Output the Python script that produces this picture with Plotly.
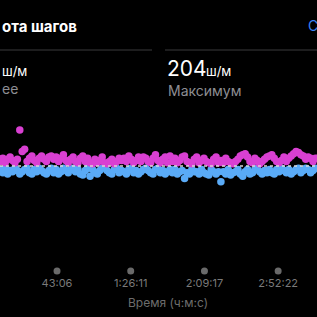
import plotly.graph_objects as go

# ---- data ----
START_S = 600          # first sample time (s)
SAMPLE_S = 85          # sampling interval (s)
AVG_SPM = 172          # average cadence (dashed line)
MAX_SPM = 204

above_spm = [176,179,175,178,180,177,175,178,
             204,185,187,
             176,179,181,177,175,179,181,178,176,180,
             181,178,180,176,179,182,177,175,178,180,
             176,175,179,181,176,179,175,174,178,175,
             177,180,175,174,176,178,174,176,179,177,
             179,176,181,178,175,177,180,176,180,179,
             176,175,179,182,177,175,178,180,175,181,
             176,179,175,177,180,181,176,175,174,178,
             180,175,177,179,176,175,174,178,180,175,
             177,175,179,176,175,174,176,178,181,182,
             183,180,176,175,179,177,174,176,178,180,
             181,182,179,176,175,177,180,176,179,181,
             183,185,184,182,181,178,180,179,176,179]

below_spm = [169,166,170,165,168,167,170,168,165,167,169,
             170,166,165,169,167,170,168,166,165,168,
             170,166,169,165,167,170,168,166,169,170,
             167,169,165,164,168,170,163,169,166,165,
             168,170,171,168,166,165,169,170,166,168,
             167,165,169,170,166,168,165,167,169,170,
             168,166,165,169,170,166,168,165,167,169,
             166,169,165,167,168,161,166,165,169,167,
             167,165,169,166,165,164,169,167,165,167,
             158,167,165,169,164,166,167,169,165,163,
             167,169,165,166,169,170,167,165,168,166,
             169,166,165,169,167,170,168,166,169,165,
             167,169,170,166,168,170,169,166,168,170]

times_s = [START_S + i * SAMPLE_S for i in range(len(above_spm))]

tick_vals = [2586, 5171, 7757, 10342]
tick_text = ["43:06", "1:26:11", "2:09:17", "2:52:22"]

X_RANGE = [586, 11705]
Y_RANGE = [75.1, 230.7]

MAGENTA = "#d940d2"
BLUE = "#5aabf7"
GRAY = "#7a7a7a"

fig = go.Figure()
fig.add_trace(go.Scatter(x=times_s, y=below_spm, mode="markers",
                         marker=dict(color=BLUE, size=7.5, line=dict(width=0)),
                         hoverinfo="skip", showlegend=False))
fig.add_trace(go.Scatter(x=times_s, y=above_spm, mode="markers",
                         marker=dict(color=MAGENTA, size=7.5, line=dict(width=0)),
                         hoverinfo="skip", showlegend=False))
# tick dots
fig.add_trace(go.Scatter(x=tick_vals, y=[0.023] * len(tick_vals), mode="markers",
                         marker=dict(color="#6a6a6a", size=7), yaxis="y2",
                         cliponaxis=False, hoverinfo="skip", showlegend=False))

fig.add_shape(type="line", xref="paper", x0=0, x1=1, yref="y", y0=AVG_SPM, y1=AVG_SPM,
              line=dict(color="#d8d8d8", width=1.3, dash="3px,3px"), layer="above")
# separators
fig.add_shape(type="line", xref="paper", yref="paper", x0=0, x1=152/317,
              y0=(275-50)/175, y1=(275-50)/175, line=dict(color="#3a3a3c", width=1))
fig.add_shape(type="line", xref="paper", yref="paper", x0=165/317, x1=1,
              y0=(275-50)/175, y1=(275-50)/175, line=dict(color="#3a3a3c", width=1))

FONT = "Inter, Roboto, sans-serif"

def py(p):
    return (275 - p) / 175

def px(p):
    return p / 317

anns = [
    dict(text="<b>ота шагов</b>", x=px(0), y=py(26), font=dict(size=15, color="white")),
    dict(text="С", x=px(306), y=py(25), font=dict(size=14, color="#3a82f7")),
    dict(text="ш/м", x=px(0), y=py(71), font=dict(size=13, color="white")),
    dict(text="ее", x=px(0), y=py(89), font=dict(size=14, color="#8e8e93")),
    dict(text=f"{MAX_SPM}", x=px(165), y=py(68.5), font=dict(size=21, color="white")),
    dict(text="ш/м", x=px(204), y=py(71), font=dict(size=13, color="white")),
    dict(text="Максимум", x=px(166), y=py(90), font=dict(size=14, color="#8e8e93")),
]
for a in anns:
    fig.add_annotation(xref="paper", yref="paper", xanchor="left", yanchor="middle",
                       showarrow=False, **a)
fig.add_annotation(text="Время (ч:м:с)", xref="paper", yref="paper", x=px(168), y=py(302),
                   xanchor="center", yanchor="middle", showarrow=False,
                   font=dict(size=12, color="#6d6d6d", family=FONT))

fig.update_layout(
    width=317, height=317,
    margin=dict(l=0, r=0, t=100, b=42),
    paper_bgcolor="black", plot_bgcolor="black",
    font=dict(family=FONT),
    xaxis=dict(range=X_RANGE, tickvals=tick_vals, ticktext=tick_text, ticks="",
               showgrid=False, zeroline=False, showline=False,
               tickfont=dict(size=11, color=GRAY, family=FONT)),
    yaxis=dict(range=Y_RANGE, visible=False, showgrid=False, zeroline=False),
    yaxis2=dict(range=[0, 1], overlaying="y", visible=False),
)

fig.write_html("out.html")
